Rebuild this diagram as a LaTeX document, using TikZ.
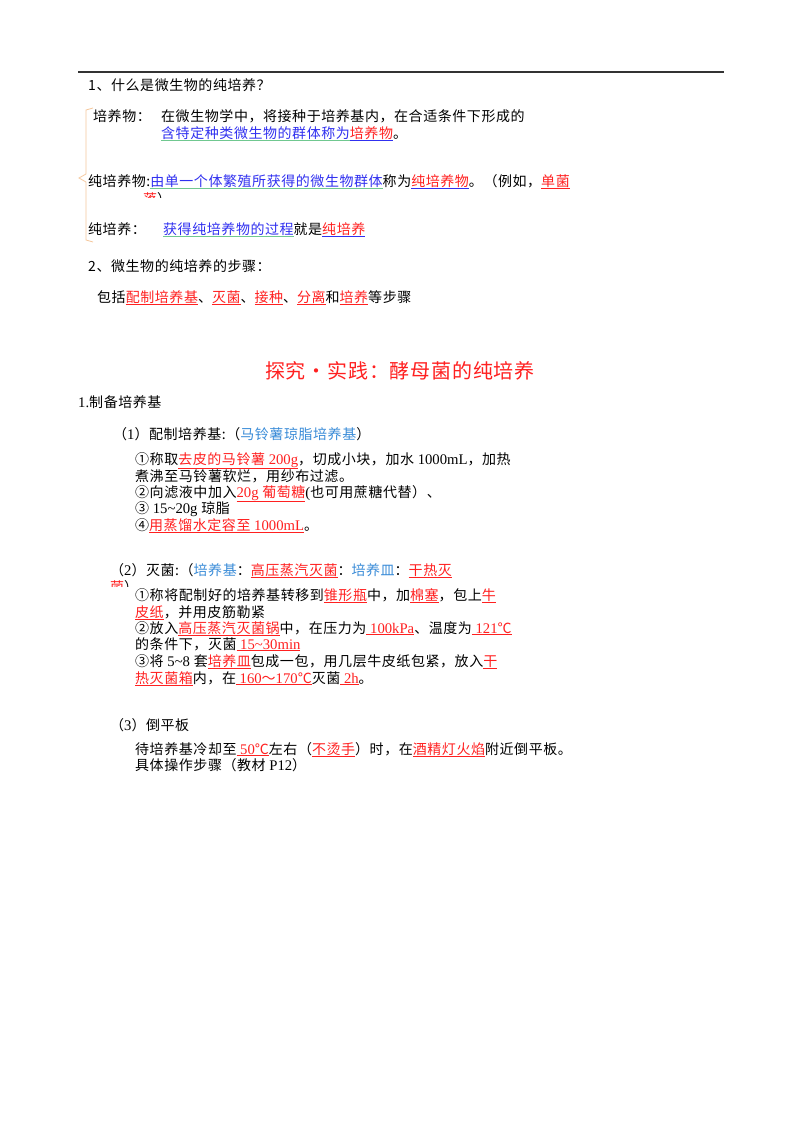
\documentclass[tikz,border=0pt]{standalone}
\usepackage{fontspec}
\setmainfont{Noto Sans CJK SC}[LetterSpace=4]
\newfontfamily\lat{Liberation Serif}[Scale=1.05]
\definecolor{ured}{HTML}{FF2020}
\definecolor{ublue}{HTML}{3030F0}
\definecolor{lblue}{HTML}{3A8CD8}
\definecolor{ugreen}{HTML}{70C890}
\definecolor{brc}{HTML}{F5C79C}
\newcommand\lt[1]{{\lat #1}}
\newcommand\ru[1]{\textcolor{ured}{\underline{#1}}}
\newcommand\gb[1]{{\color{ugreen}\underline{\textcolor{ublue}{#1}}}}
\newcommand\br[1]{{\color{ublue}\underline{\textcolor{ured}{#1}}}}
\newcommand\lb[1]{\textcolor{lblue}{#1}}
\begin{document}
\begin{tikzpicture}[x=1pt,y=-1pt,
  t/.style={anchor=base west,inner sep=0pt,font=\fontsize{14}{16}\selectfont}]
\useasboundingbox[fill=white] (0,0) rectangle (800,1132);
\draw[line width=1.5pt,black!80] (78,72) -- (724,72);
\node[t] (q1) at (88,90) {1、什么是微生物的纯培养？};
\draw[brc,line width=0.8pt] (93,108) -- (86,110) -- (86,174) -- (79,178) -- (86,182) -- (86,240) -- (93,242);
\node[t] (a1) at (93,121) {培养物：};
\node[t] (a1t) at (161,121) {在微生物学中，将接种于培养基内，在合适条件下形成的};
\node[t] (a1u) at (161,138) {\gb{含特定种类微生物的群体称为}\br{培养物}。};
\node[t] (a2) at (88,186) {纯培养物:\gb{由单一个体繁殖所获得的微生物群体}称为\br{纯培养物}。（例如，\ru{单菌}};
\begin{scope}
\clip (130,190) rectangle (300,197);
\node[t] (a2c) at (143,204) {\textcolor{ured}{落}）};
\end{scope}
\node[t] (a3) at (88,234) {纯培养：};
\node[t] (a3t) at (163,234) {\gb{获得纯培养物的过程}就是\br{纯培养}};
\node[t] (q2) at (88,271) {2、微生物的纯培养的步骤：};
\node[t] (s) at (97,302) {包括\ru{配制培养基}、\ru{灭菌}、\ru{接种}、\ru{分离}和\ru{培养}等步骤};
\node[anchor=base,inner sep=0pt,font=\fontsize{20}{24}\selectfont,text=ured] (title) at (400,378) {探究·实践：酵母菌的纯培养};
\node[t] (h1) at (78,407) {\lt{1.}制备培养基};
\node[t] (p1) at (113,439) {（\lt{1}）配制培养基:（\lb{马铃薯琼脂培养基}）};
\node[t] (l1) at (135,464) {①称取\ru{去皮的马铃薯\lt{ 200g}}，切成小块，加水\lt{ 1000mL}，加热};
\node[t] (l2) at (135,481) {煮沸至马铃薯软烂，用纱布过滤。};
\node[t] (l3) at (135,497) {②向滤液中加入\ru{\lt{20g }葡萄糖}\lt{(}也可用蔗糖代替）、};
\node[t] (l4) at (135,513) {③\lt{ 15\textasciitilde20g }琼脂};
\node[t] (l5) at (135,530) {④\ru{用蒸馏水定容至\lt{ 1000mL}}。};
\node[t] (p2) at (110,575) {（\lt{2}）灭菌:（\lb{培养基}：\ru{高压蒸汽灭菌}：\lb{培养皿}：\ru{干热灭}};
\begin{scope}
\clip (100,580) rectangle (300,586);
\node[t] (p2c) at (110,592) {\textcolor{ured}{菌}）};
\end{scope}
\node[t] (m1) at (135,600) {①称将配制好的培养基转移到\ru{锥形瓶}中，加\ru{棉塞}，包上\ru{牛}};
\node[t] (m2) at (135,617) {\ru{皮纸}，并用皮筋勒紧};
\node[t] (m3) at (135,633) {②放入\ru{高压蒸汽灭菌锅}中，在压力为\ru{\lt{ 100kPa}}、温度为\ru{\lt{ 121}℃}};
\node[t] (m4) at (135,649) {的条件下，灭菌\ru{\lt{ 15\textasciitilde30min}}};
\node[t] (m5) at (135,666) {③将\lt{ 5\textasciitilde8 }套\ru{培养皿}包成一包，用几层牛皮纸包紧，放入\ru{干}};
\node[t] (m6) at (135,683) {\ru{热灭菌箱}内，在\ru{\lt{ 160}～\lt{170}℃}灭菌\ru{\lt{ 2h}}。};
\node[t] (p3) at (110,730) {（\lt{3}）倒平板};
\node[t] (n1) at (135,754) {待培养基冷却至\ru{\lt{ 50}℃}左右（\ru{不烫手}）时，在\ru{酒精灯火焰}附近倒平板。};
\node[t] (n2) at (135,770) {具体操作步骤（教材\lt{ P12}）};
\end{tikzpicture}
\end{document}
